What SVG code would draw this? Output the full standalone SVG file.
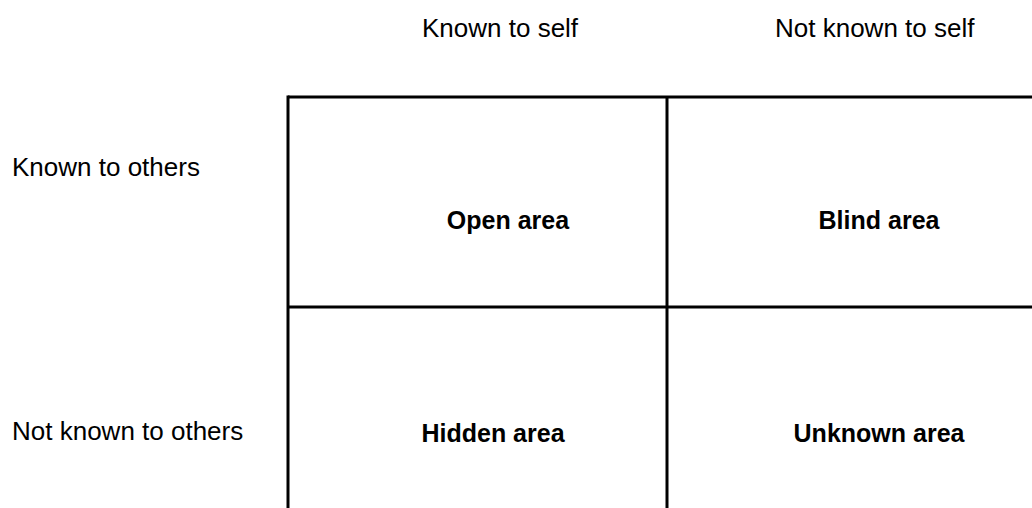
<svg xmlns="http://www.w3.org/2000/svg" width="1032" height="508" viewBox="0 0 1032 508">
<style>
.t{font-family:"Liberation Sans","Open Sans",sans-serif;font-size:26px;fill:#000}
.b{font-family:"Liberation Sans","Open Sans",sans-serif;font-size:25px;font-weight:bold;fill:#000;text-anchor:middle}
.l{stroke:#000;stroke-width:3;fill:none}
</style>
<rect width="1032" height="508" fill="#fff"/>
<g id="connectors">
<line class="l" x1="288" y1="97" x2="1032" y2="97"/>
<line class="l" x1="288" y1="307" x2="1032" y2="307"/>
<line class="l" x1="288" y1="95.5" x2="288" y2="508"/>
<line class="l" x1="667" y1="97" x2="667" y2="508"/>
</g>
<g id="header-known-self"><text class="t" x="422" y="37">Known to self</text></g>
<g id="header-not-known-self"><text class="t" x="775" y="37">Not known to self</text></g>
<g id="row-known-others"><text class="t" x="12" y="176">Known to others</text></g>
<g id="row-not-known-others"><text class="t" x="12" y="440">Not known to others</text></g>
<g id="open-area"><text class="b" x="508" y="229">Open area</text></g>
<g id="blind-area"><text class="b" x="879" y="229">Blind area</text></g>
<g id="hidden-area"><text class="b" x="493" y="442">Hidden area</text></g>
<g id="unknown-area"><text class="b" x="879" y="442">Unknown area</text></g>
</svg>
